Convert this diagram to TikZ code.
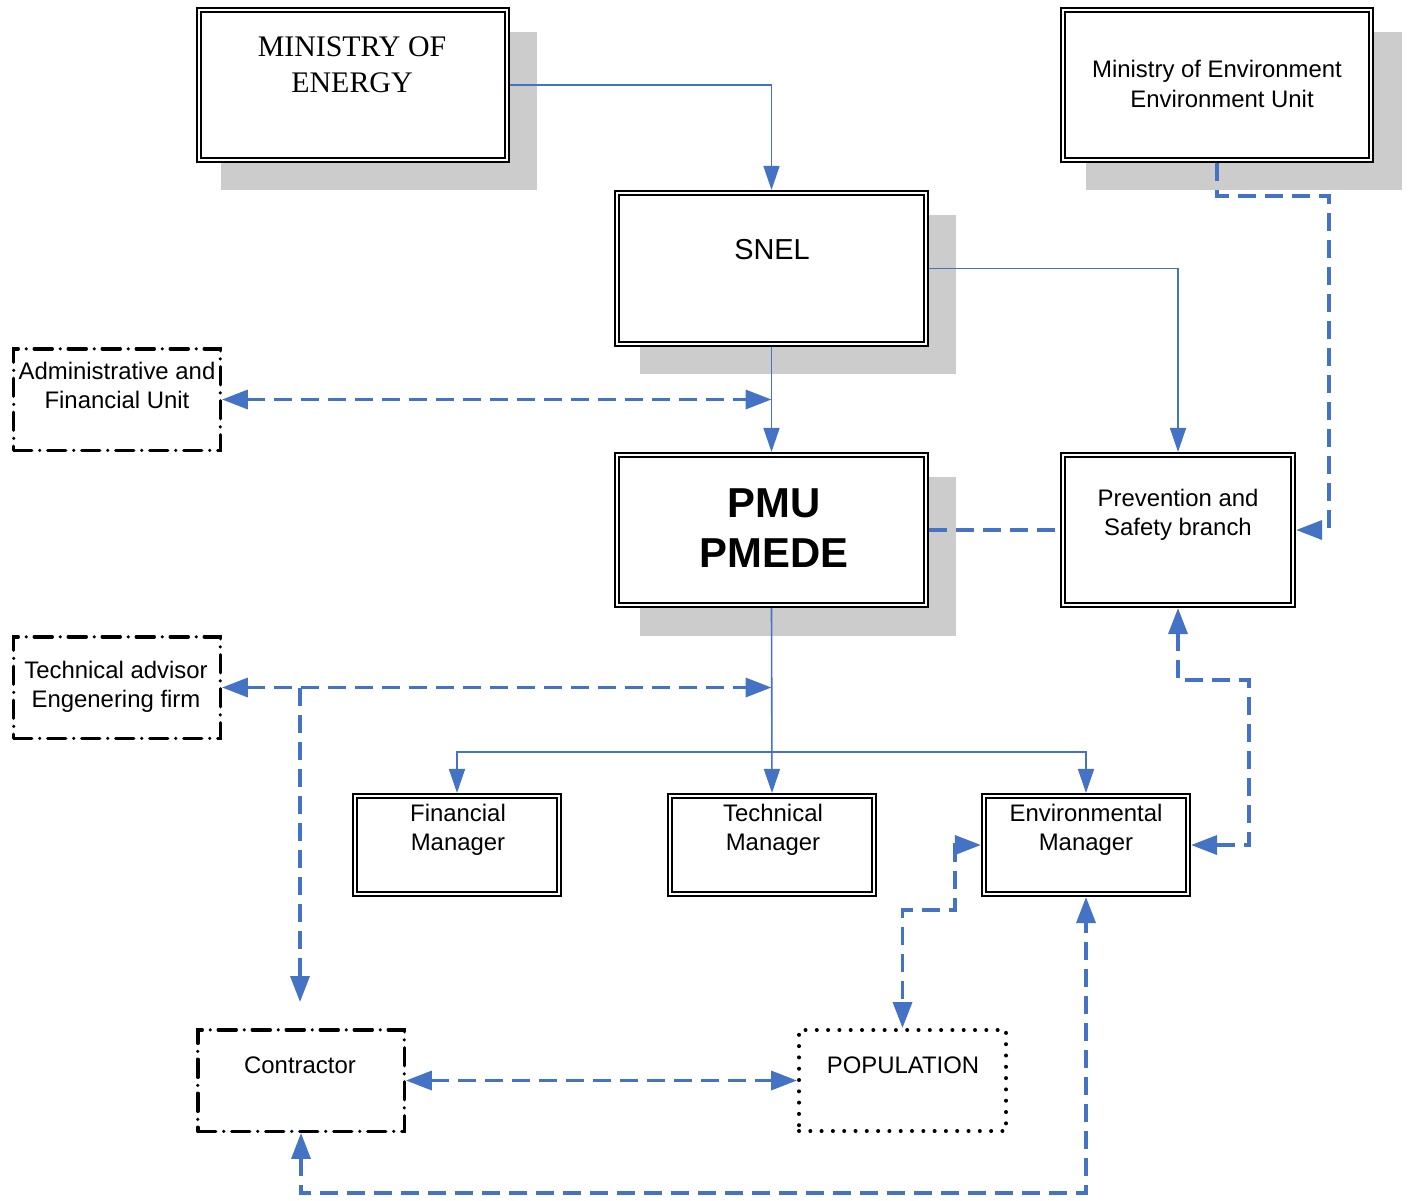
\documentclass[tikz,border=0pt]{standalone}
\usepackage{fontspec}
\setmainfont{Liberation Sans}
\newfontfamily\tnr{Liberation Serif}
\usetikzlibrary{arrows.meta,calc}
\definecolor{lnblue}{HTML}{4472C4}
\definecolor{shgray}{HTML}{CCCCCC}
\begin{document}
\begin{tikzpicture}[x=1bp,y=-1bp,
  dblbox/.style={draw, double, double distance=2.2bp, line width=1.7bp, fill=white, inner sep=0pt, outer sep=2.8bp},
  shadowbox/.style={fill=shgray},
  ddbox/.style={draw, line width=3.5bp, line cap=round, dash pattern=on 18bp off 8bp on 0bp off 8bp, inner sep=0pt, outer sep=1.7bp},
  dotbox/.style={draw, line width=4bp, line cap=round, dash pattern=on 0bp off 11.3bp, inner sep=0pt, outer sep=2bp},
  txt/.style={align=center, inner sep=0pt, font=\fontsize{24}{29}\selectfont},
  solidln/.style={draw=lnblue, line width=1.6bp},
  solidarr/.style={solidln, -{Triangle[length=24bp,width=16bp]}},
  dashln/.style={draw=lnblue, line width=3.5bp, dash pattern=on 18bp off 9bp},
  dasharr1/.style={dashln, -{Triangle[length=26bp,width=19bp]}},
  dasharr2/.style={dashln, {Triangle[length=26bp,width=19bp]}-{Triangle[length=26bp,width=19bp]}}
]
\useasboundingbox (0,0) rectangle (1409,1200);

% shadows
\fill[shadowbox] (221,32) rectangle (537,190);
\fill[shadowbox] (1086,32) rectangle (1402,190);
\fill[shadowbox] (640,215) rectangle (956,374);
\fill[shadowbox] (640,477) rectangle (956,636);

% boxes
\node[dblbox, minimum width=308.5bp, minimum height=150.5bp] (moe) at (353,85) {};
\node[dblbox, minimum width=308.5bp, minimum height=150.5bp] (menv) at (1217,85) {};
\node[dblbox, minimum width=309.5bp, minimum height=151.5bp] (snel) at (771.5,268.5) {};
\node[dblbox, minimum width=309.5bp, minimum height=150.5bp] (pmu) at (771.5,530) {};
\node[dblbox, minimum width=230.5bp, minimum height=150.5bp] (psb) at (1178,530) {};
\node[dblbox, minimum width=204.5bp, minimum height=98.5bp] (fm) at (457,845) {};
\node[dblbox, minimum width=204.5bp, minimum height=98.5bp] (tm) at (772,845) {};
\node[dblbox, minimum width=204.5bp, minimum height=98.5bp] (em) at (1086,845) {};
\node[ddbox, minimum width=206.5bp, minimum height=101.5bp] (afu) at (117,399.5) {};
\node[ddbox, minimum width=206.5bp, minimum height=101.5bp] (tae) at (117,687.5) {};
\node[ddbox, minimum width=206.5bp, minimum height=101.5bp] (con) at (301,1080.5) {};
\node[dotbox, minimum width=207bp, minimum height=101bp] (pop) at (902.5,1080.5) {};

% texts
\node[txt, font=\tnr\fontsize{30}{36}\selectfont] (t-moe) at (352,65) {MINISTRY OF\\ENERGY};
\node[txt, font=\fontsize{24}{30}\selectfont] (t-menv) at (1217,84) {Ministry of Environment\\\hspace*{10bp}Environment Unit};
\node[txt, font=\fontsize{29}{30}\selectfont] (t-snel) at (772,250) {SNEL};
\node[txt, font=\bfseries\fontsize{42}{50}\selectfont] (t-pmu) at (774,528) {PMU\\PMEDE};
\node[txt] (t-psb) at (1178,515) {Prevention and\\Safety branch};
\node[txt] (t-fm) at (458,829.5) {Financial\\Manager};
\node[txt] (t-tm) at (773,829.5) {Technical\\Manager};
\node[txt] (t-em) at (1086,829.5) {Environmental\\Manager};
\node[txt] (t-afu) at (117,385) {Administrative and\\Financial Unit};
\node[txt] (t-tae) at (116,687) {Technical advisor\\Engenering firm};
\node[txt] (t-con) at (300,1065) {Contractor};
\node[txt] (t-pop) at (903,1065) {POPULATION};

% connectors
\draw[solidarr] (moe.east) -| (snel.north);
\draw[solidarr] (snel.east) -| (psb.north);
\draw[solidarr] (snel.south) -- (pmu.north);
\coordinate (afuend) at (afu.east -| snel.south);
\draw[dasharr2] (afu.east) -- (afuend);
\coordinate (mecorner) at (1329,196);
\draw[dasharr1] (menv.south) |- (mecorner) |- (psb.east);
\draw[dashln] (pmu.east) -- (psb.west);
\draw[solidarr] (pmu.south) -- (tm.north);
\coordinate (br) at (772,752);
\draw[solidarr] (br) -| (fm.north);
\draw[solidarr] (br) -| (em.north);
\coordinate (taeend) at (tae.east -| pmu.south);
\draw[dasharr2] (tae.east) -- (taeend);
\coordinate (taejn) at (300,687.5);
\coordinate (contop) at (300,1002);
\draw[dasharr1] (taejn) -- (contop);
\coordinate (pe) at (1249,680);
\draw[dasharr2] (psb.south) |- (pe) |- (em.east);
\coordinate (ep) at (955,910);
\draw[dasharr2] (em.west) -| (ep) -| (pop.north);
\draw[dasharr2] (con.east) -- (pop.west);
\coordinate (ce) at (1086,1193);
\draw[dasharr2] (con.south) |- (ce) -- (em.south);
\end{tikzpicture}
\end{document}
